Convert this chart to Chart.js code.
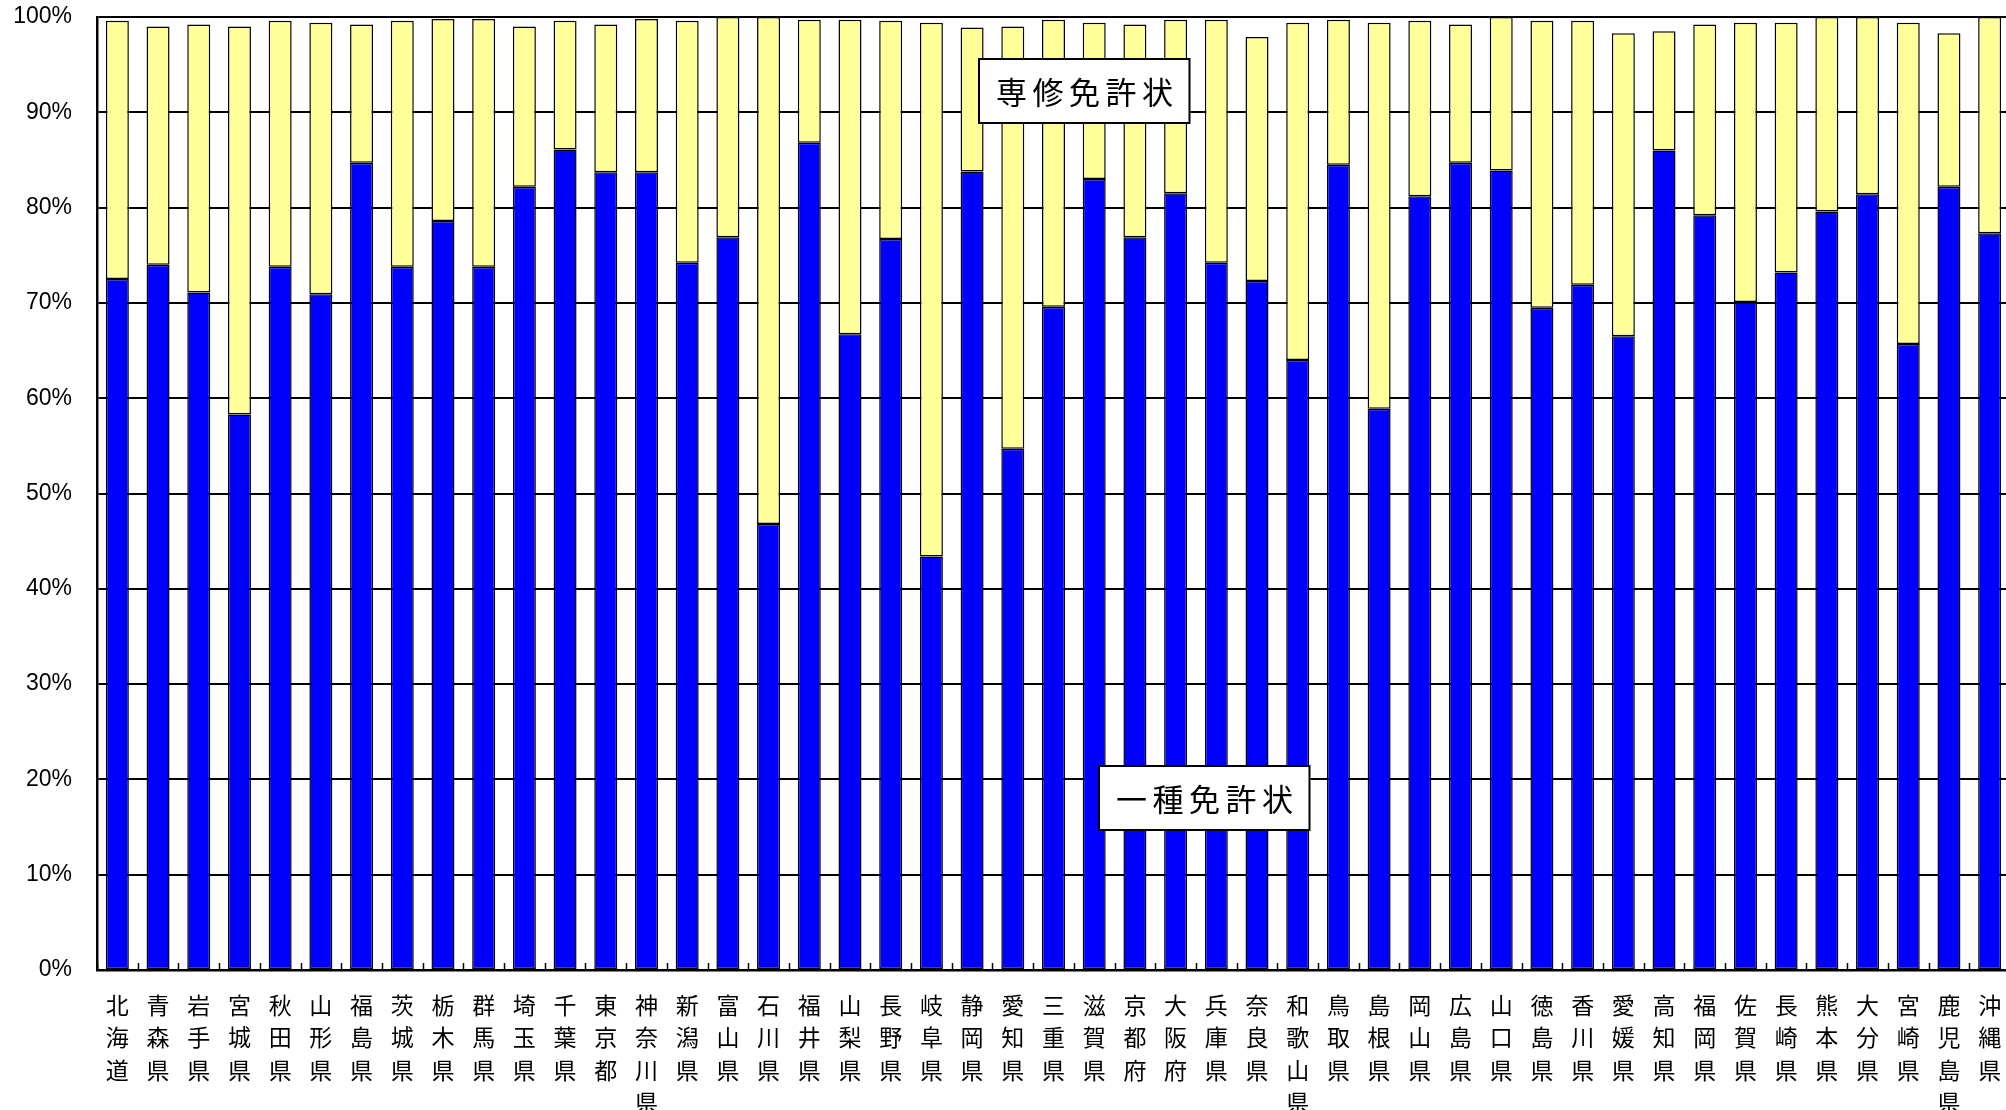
<!DOCTYPE html>
<html>
<head>
<meta charset="utf-8">
<script src="https://cdn.jsdelivr.net/npm/chart.js@4/dist/chart.umd.min.js"></script>
<style>
  html, body { margin: 0; padding: 0; background: #fff; overflow: hidden; }
  #wrap { width: 2010px; height: 1110px; }
</style>
</head>
<body>
<div id="wrap"><canvas id="c" width="2010" height="1110"></canvas></div>
<script>
const prefectures = ["北海道","青森県","岩手県","宮城県","秋田県","山形県","福島県","茨城県","栃木県","群馬県",
  "埼玉県","千葉県","東京都","神奈川県","新潟県","富山県","石川県","福井県","山梨県","長野県",
  "岐阜県","静岡県","愛知県","三重県","滋賀県","京都府","大阪府","兵庫県","奈良県","和歌山県",
  "鳥取県","島根県","岡山県","広島県","山口県","徳島県","香川県","愛媛県","高知県","福岡県",
  "佐賀県","長崎県","熊本県","大分県","宮崎県","鹿児島県","沖縄県"];

const firstClass = [72.5,74.0,71.1,58.3,73.8,70.9,84.7,73.8,78.6,73.8,
  82.2,86.1,83.7,83.7,74.2,76.9,46.8,86.8,66.7,76.7,
  43.4,83.8,54.7,69.6,83.0,76.9,81.5,74.2,72.3,64.0,
  84.5,58.9,81.2,84.7,83.9,69.5,71.9,66.5,86.0,79.2,
  70.1,73.2,79.6,81.4,65.7,82.2,77.3];

const specialist = [27.1,25.0,28.1,40.7,25.8,28.5,14.5,25.8,21.2,26.0,
  16.8,13.5,15.5,16.1,25.4,23.1,53.2,12.9,33.0,22.9,
  56.0,15.1,44.3,30.1,16.4,22.3,18.2,25.5,25.6,35.4,
  15.2,40.5,18.4,14.5,16.1,30.1,27.7,31.8,12.5,20.0,
  29.3,26.2,20.4,18.6,33.7,16.1,22.7];

const seriesNames = ["一種免許状", "専修免許状"];
const yTicks = [0,10,20,30,40,50,60,70,80,90,100];

// annotation labels: text, category position, value position
const noteTexts = ["専修免許状", "一種免許状"];
const noteX = [23.76, 26.71];
const noteY = [92.2, 18.0];

const labels = prefectures.map(p => Array.from(p));

const tickMarks = {
  id: 'tickMarks',
  afterDatasetsDraw(chart) {
    const xs = chart.scales.x, ctx = chart.ctx;
    const step = xs.getPixelForValue(1) - xs.getPixelForValue(0);
    const bottom = chart.chartArea.bottom;
    ctx.save();
    ctx.strokeStyle = '#000';
    ctx.lineWidth = 1.5;
    for (let i = 0; i <= prefectures.length; i++) {
      const x = Math.round(xs.getPixelForValue(i) - step / 2) + 0.5;
      ctx.beginPath();
      ctx.moveTo(x, bottom);
      ctx.lineTo(x, bottom - 7);
      ctx.stroke();
    }
    ctx.restore();
  }
};

const notes = {
  id: 'notes',
  afterDraw(chart) {
    const xs = chart.scales.x, ys = chart.scales.y, ctx = chart.ctx;
    ctx.save();
    const fs = 31, charStep = 36.5;
    ctx.font = fs + 'px "Noto Sans CJK JP", sans-serif';
    ctx.textBaseline = 'middle';
    ctx.textAlign = 'center';
    for (let k = 0; k < noteTexts.length; k++) {
      const cx = xs.getPixelForValue(noteX[k]);
      const cy = ys.getPixelForValue(noteY[k]);
      const chars = Array.from(noteTexts[k]);
      const tw = charStep * chars.length;
      const w = tw + 30, h = 66;
      const x0 = Math.round(cx - w / 2), y0 = Math.round(cy - h / 2);
      ctx.fillStyle = '#fff';
      ctx.fillRect(x0, y0, w, h);
      ctx.strokeStyle = '#000';
      ctx.lineWidth = 2;
      ctx.strokeRect(x0 + 1, y0 + 1, w - 2, h - 2);
      ctx.fillStyle = '#000';
      chars.forEach((ch, i) => {
        ctx.fillText(ch, cx - tw / 2 + charStep * (i + 0.5), cy + 1);
      });
    }
    ctx.restore();
  }
};

new Chart(document.getElementById('c'), {
  type: 'bar',
  data: {
    labels: labels,
    datasets: [
      { label: seriesNames[0], data: firstClass, backgroundColor: '#0000FF',
        borderColor: '#000', borderWidth: 1.5, borderSkipped: false },
      { label: seriesNames[1], data: specialist, backgroundColor: '#FFFF99',
        borderColor: '#000', borderWidth: 1.5, borderSkipped: false }
    ]
  },
  options: {
    responsive: false,
    animation: false,
    devicePixelRatio: 1,
    datasets: { bar: { categoryPercentage: 1.0, barPercentage: 0.565 } },
    layout: { padding: { top: 17, left: 0, right: 0, bottom: 0 } },
    plugins: { legend: { display: false }, tooltip: { enabled: false } },
    scales: {
      x: {
        stacked: true,
        offset: true,
        grid: { display: false, drawTicks: false },
        border: { display: true, color: '#000', width: 2.5 },
        ticks: {
          autoSkip: false, maxRotation: 0, minRotation: 0,
          padding: 19,
          color: '#000',
          font: { family: '"Noto Sans CJK JP", sans-serif', size: 23, lineHeight: 1.413 }
        },
        afterFit(scale) { scale.height = 140; scale.paddingLeft = 0; scale.paddingRight = 0; }
      },
      y: {
        stacked: true,
        min: 0, max: 100,
        afterBuildTicks(scale) { scale.ticks = yTicks.map(v => ({ value: v })); },
        grid: { color: '#000', lineWidth: 2, drawTicks: false },
        border: { display: true, color: '#000', width: 2.5 },
        ticks: {
          padding: 25,
          color: '#000',
          font: { family: '"Liberation Sans", Arial, sans-serif', size: 23 },
          callback: v => v + '%'
        },
        afterFit(scale) { scale.width = 97; scale.paddingTop = 0; scale.paddingBottom = 0; }
      }
    }
  },
  plugins: [tickMarks, notes]
});
</script>
</body>
</html>
